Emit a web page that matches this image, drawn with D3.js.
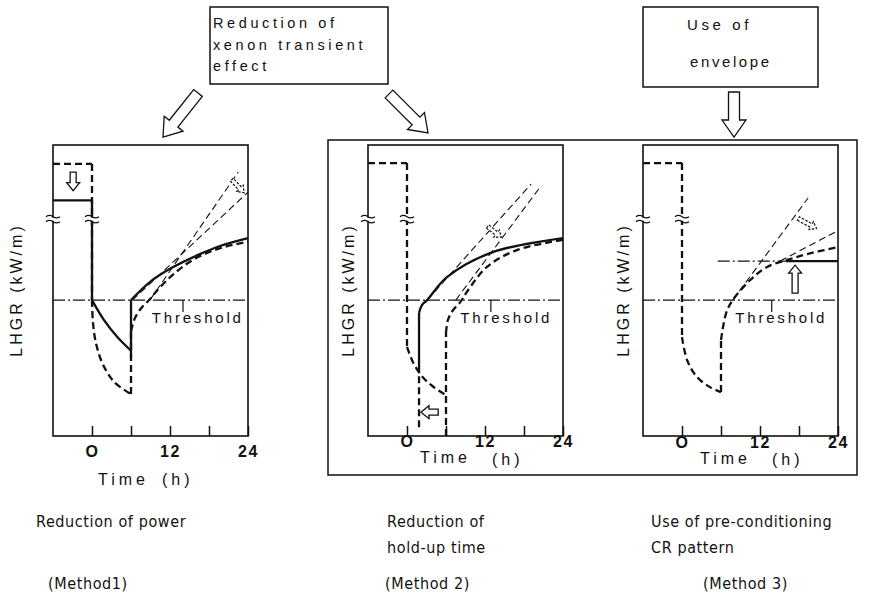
<!DOCTYPE html>
<html>
<head>
<meta charset="utf-8">
<script src="https://cdn.jsdelivr.net/npm/d3@7"></script>
<style>
  body { margin: 0; background: #fff; }
  text { fill: #111; }
</style>
</head>
<body>
<svg id="fig" width="875" height="599"></svg>
<script>
// ---- data (time in h, LHGR in arbitrary units 0..100) ----
const tickValues = [0, 6, 12, 18, 24];
const tickLabels = {0: "O", 12: "12", 24: "24"};
const threshold = 46.7;
const breakLevel = 74.5;

// Method 1 : reduction of power
const m1Solid = [
  [[-6, 81], [0, 81]], [[0, 81], [0, 46.7]],
  [[0, 46.7], [1.8, 40], [3.9, 34], [6, 29.3]],
  [[6, 27], [6, 46.7]],
  [[6, 46.7], [8.9, 52.9], [12.2, 57.7], [16.6, 62.5], [19.7, 65.3], [24, 68]]
];
const m1Dashed = [
  [[-6, 93.5], [0, 93.5]], [[0, 93.5], [0, 46.7]],
  [[0, 46.7], [0.15, 39], [0.6, 32], [1.6, 25], [3.4, 18.6], [6, 14.4]],
  [[6, 14.4], [6, 36]],
  [[6, 36], [6.6, 40.5], [7.6, 44], [8.9, 47], [10.2, 50.5], [12.5, 55.5], [15.5, 60.5], [19.5, 64.4], [24, 66.8]]
];
const m1Tangents = [[[8.9, 46.7], [22.5, 90.7]], [[6.2, 46.7], [24, 83.8]]];

// Method 2 : reduction of hold-up time
const m2Solid = [
  [[1.85, 22], [1.85, 42.3]],
  [[1.85, 42.3], [2.3, 45], [3.1, 46.7], [6.15, 54.6], [13.2, 63.2], [24, 68]]
];
const m2Dashed = [
  [[-6, 93.8], [0, 93.8]], [[0, 93.8], [0, 30.6]],
  [[0, 30.6], [1, 25], [2.5, 20], [4, 17], [6, 14]],
  [[6, 0], [6, 35.4]],
  [[6, 35.4], [6.3, 39.9], [7.1, 43.3], [8.2, 46], [9.2, 49.5], [12.3, 58.1], [16.9, 63.9], [24, 67.4]],
  [[1.85, 3], [1.85, 22]]
];
const m2Tangents = [[[3.1, 46.7], [19.1, 86.6]], [[7.5, 46.7], [20.6, 85.9]]];

// Method 3 : use of pre-conditioning CR pattern (envelope)
const envelope = 60.1;
const m3Solid = [[[16, envelope], [24, envelope]]];
const m3Dashed = [
  [[-6, 93.8], [0, 93.8]], [[0, 93.8], [0, 34]],
  [[0, 34], [0.8, 26], [2.3, 20.3], [4.3, 16.8], [6, 15.1]],
  [[6, 15.1], [6, 33]],
  [[6, 33], [6.8, 42.3], [7.8, 46.7], [10.5, 53.6], [13.1, 58.1], [16.2, 60.5], [19.2, 62.5], [24, 64.9]]
];
const m3Tangents = [[[7.8, 46.7], [19.4, 81.8]], [[15.1, envelope], [24, 70.6]]];

// small shift arrows inside the plots: [tail, tip]
const m1Arrows = [[[-2.9, 90.7], [-2.9, 84.3]]];
const m2Arrows = [[[4.8, 8.2], [2.15, 8.2]]];
const m3Arrows = [[[17.4, 49.1], [17.4, 58.7]]];
const m1ShiftArrows = [[[21.5, 88.1], [23.4, 83.6]]];
const m2ShiftArrows = [[[12.4, 72], [14.5, 68.3]]];
const m3ShiftArrows = [[[17.9, 74.7], [20.7, 71.3]]];

const captions = [
  ["Reduction of power"], ["Reduction of", "hold-up time"], ["Use of pre-conditioning", "CR pattern"]
];
const methodNames = ["(Method1)", "(Method 2)", "(Method 3)"];

// ---- layout ----
const svg = d3.select("#fig");
const font = "'Liberation Sans', Arial, sans-serif";
const narrow = "'Liberation Sans Narrow', 'Arial Narrow', 'DejaVu Sans Condensed', sans-serif";

const panels = [
  {left: 53, solid: m1Solid, dashed: m1Dashed, tangents: m1Tangents, arrows: m1Arrows, shift: m1ShiftArrows,
   thrLabel: 9.2, leader: 14, ylabX: 16, tickY: 457, timeX: 98, hX: 162, timeY: 485, hY: 485},
  {left: 368, solid: m2Solid, dashed: m2Dashed, tangents: m2Tangents, arrows: m2Arrows, shift: m2ShiftArrows,
   thrLabel: 8.2, leader: 12.9, ylabX: 348, tickY: 447, timeX: 420, hX: 492, timeY: 463, hY: 465},
  {left: 643, solid: m3Solid, dashed: m3Dashed, tangents: m3Tangents, arrows: m3Arrows, shift: m3ShiftArrows,
   thrLabel: 8.2, leader: 13.8, ylabX: 623, tickY: 448, timeX: 700, hX: 772, timeY: 464, hY: 465}
];

const y = d3.scaleLinear().domain([0, 100]).range([436, 145]);

function arrowPts(x1, y1, x2, y2, bw, hw, hl) {
  const dx = x2 - x1, dy = y2 - y1, L = Math.hypot(dx, dy);
  const ux = dx / L, uy = dy / L, px = -uy, py = ux;
  const bx = x2 - ux * hl, by = y2 - uy * hl;
  return [[x1 + px * bw / 2, y1 + py * bw / 2], [bx + px * bw / 2, by + py * bw / 2],
          [bx + px * hw / 2, by + py * hw / 2], [x2, y2],
          [bx - px * hw / 2, by - py * hw / 2], [bx - px * bw / 2, by - py * bw / 2],
          [x1 - px * bw / 2, y1 - py * bw / 2]];
}
const closed = d3.line().curve(d3.curveLinearClosed);

function breakMark(g, bx, by) {
  g.append("rect").attr("x", bx - 3).attr("y", by - 1.5).attr("width", 6).attr("height", 3).attr("fill", "#fff");
  [-2.5, 2.5].forEach(o => {
    g.append("path")
      .attr("d", `M${bx - 7},${by + o} q3.5,-2.5 7,0 t7,0`)
      .attr("fill", "none").attr("stroke", "#111").attr("stroke-width", 1.3);
  });
}

panels.forEach((p, i) => {
  const x = d3.scaleLinear().domain([-6, 24]).range([p.left, p.left + 195]);
  const g = svg.append("g");
  const line = d3.line().x(d => x(d[0])).y(d => y(d[1])).curve(d3.curveCatmullRom.alpha(0.5));

  // frame
  g.append("rect").attr("x", x(-6)).attr("y", y(100)).attr("width", x(24) - x(-6)).attr("height", y(0) - y(100))
    .attr("fill", "none").attr("stroke", "#111").attr("stroke-width", 1.6);

  // threshold
  g.append("line").attr("x1", x(-6)).attr("x2", x(24)).attr("y1", y(threshold)).attr("y2", y(threshold))
    .attr("stroke", "#111").attr("stroke-width", 1.2).attr("stroke-dasharray", "12,3,2,3");
  g.append("line").attr("x1", x(p.leader)).attr("x2", x(p.leader))
    .attr("y1", y(threshold)).attr("y2", y(threshold) + 12).attr("stroke", "#111").attr("stroke-width", 1.2);
  g.append("text").attr("x", x(p.thrLabel)).attr("y", y(threshold) + 23)
    .attr("font-family", font).attr("font-size", 15).attr("letter-spacing", 2.8).text("Threshold");

  // envelope (method 3)
  if (i === 2) {
    g.append("line").attr("x1", x(5.5)).attr("x2", x(16)).attr("y1", y(envelope)).attr("y2", y(envelope))
      .attr("stroke", "#111").attr("stroke-width", 1.2).attr("stroke-dasharray", "12,3,2,3");
  }

  // tangent extrapolations
  p.tangents.forEach(t => g.append("path").attr("d", line(t)).attr("fill", "none")
    .attr("stroke", "#111").attr("stroke-width", 1.1).attr("stroke-dasharray", "7,4"));

  // curves
  p.dashed.forEach(s => g.append("path").attr("d", line(s)).attr("fill", "none")
    .attr("stroke", "#111").attr("stroke-width", 2.3).attr("stroke-dasharray", "7,4"));
  p.solid.forEach(s => g.append("path").attr("d", line(s)).attr("fill", "none")
    .attr("stroke", "#111").attr("stroke-width", 2.3));

  // axis breaks on the left axis and the 0 h line
  breakMark(g, x(-6), y(breakLevel));
  breakMark(g, x(0), y(breakLevel));

  // hollow arrows
  p.arrows.forEach(a => g.append("path")
    .attr("d", closed(arrowPts(x(a[0][0]), y(a[0][1]), x(a[1][0]), y(a[1][1]), 6, 13, 8)))
    .attr("fill", "#fff").attr("stroke", "#111").attr("stroke-width", 1.3));
  p.shift.forEach(a => g.append("path")
    .attr("d", closed(arrowPts(x(a[0][0]), y(a[0][1]), x(a[1][0]), y(a[1][1]), 4, 9, 6)))
    .attr("fill", "#fff").attr("stroke", "#111").attr("stroke-width", 1.2).attr("stroke-dasharray", "2.5,1.5"));

  // time axis
  const ax = g.append("g").attr("transform", `translate(0,${y(0)})`)
    .call(d3.axisBottom(x).tickValues(tickValues).tickSizeInner(-10).tickSizeOuter(0)
      .tickFormat(d => tickLabels[d] || ""));
  ax.select(".domain").remove();
  ax.selectAll(".tick line").attr("stroke", "#111").attr("stroke-width", 1.5);
  ax.selectAll(".tick text").attr("y", p.tickY - y(0)).attr("dy", null)
    .attr("font-family", font).attr("font-size", 16).attr("font-weight", "bold").attr("letter-spacing", 1.5)
    .attr("fill", "#111");

  g.append("text").attr("x", p.timeX).attr("y", p.timeY).attr("font-family", font)
    .attr("font-size", 16).attr("letter-spacing", 4).text("Time");
  g.append("text").attr("x", p.hX).attr("y", p.hY).attr("font-family", font)
    .attr("font-size", 16).attr("letter-spacing", 4).text("(h)");

  g.append("text").attr("transform", `translate(${p.ylabX + 6},290) rotate(-90)`)
    .attr("text-anchor", "middle").attr("font-family", font).attr("font-size", 16)
    .attr("letter-spacing", 3).text("LHGR (kW/m)");
});

// frame around methods 2 and 3
svg.append("rect").attr("x", 328).attr("y", 140).attr("width", 529).attr("height", 335)
  .attr("fill", "none").attr("stroke", "#111").attr("stroke-width", 1.5);

// top boxes
svg.append("rect").attr("x", 210).attr("y", 7).attr("width", 178).attr("height", 77)
  .attr("fill", "#fff").attr("stroke", "#111").attr("stroke-width", 1.5);
["Reduction of", "xenon transient", "effect"].forEach((t, k) =>
  svg.append("text").attr("x", 213).attr("y", 28 + k * 21.5).attr("font-family", font)
    .attr("font-size", 14.5).attr("letter-spacing", 3.6).text(t));

svg.append("rect").attr("x", 643).attr("y", 7).attr("width", 175).attr("height", 80)
  .attr("fill", "#fff").attr("stroke", "#111").attr("stroke-width", 1.5);
svg.append("text").attr("x", 687).attr("y", 30).attr("font-family", font)
  .attr("font-size", 15).attr("letter-spacing", 3.6).text("Use of");
svg.append("text").attr("x", 690).attr("y", 67).attr("font-family", font)
  .attr("font-size", 15).attr("letter-spacing", 2.6).text("envelope");

// big hollow arrows from boxes to methods
[[198, 93, 163, 137], [389, 94, 428, 133], [734, 92, 734, 137]].forEach(a =>
  svg.append("path").attr("d", closed(arrowPts(a[0], a[1], a[2], a[3], 11, 24, 17)))
    .attr("fill", "#fff").attr("stroke", "#111").attr("stroke-width", 1.3));

// captions
const capX = [36, 387, 651];
captions.forEach((c, k) => c.forEach((t, j) =>
  svg.append("text").attr("x", capX[k]).attr("y", 527 + j * 26).attr("font-family", narrow)
    .attr("font-size", 16).attr("letter-spacing", 0.6).text(t)));
const methX = [48, 385, 703];
methodNames.forEach((t, k) =>
  svg.append("text").attr("x", methX[k]).attr("y", 589).attr("font-family", narrow)
    .attr("font-size", 16).attr("letter-spacing", 0.6).text(t));
</script>
</body>
</html>
